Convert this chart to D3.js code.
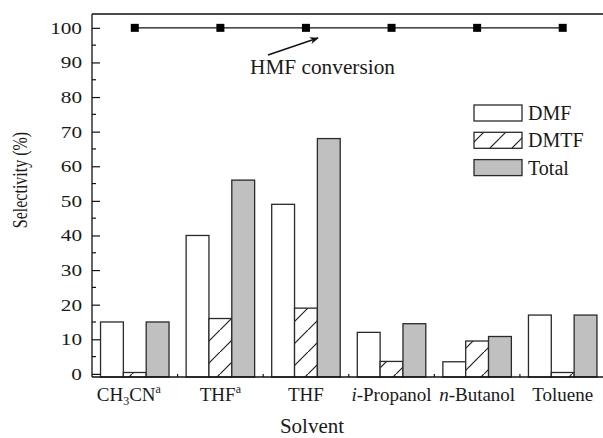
<!DOCTYPE html>
<html><head><meta charset="utf-8">
<script src="https://cdn.jsdelivr.net/npm/d3@7"></script>
<style>body{margin:0;background:#fff}svg{display:block}text{font-family:"Liberation Serif","Times New Roman",serif;fill:#1a1a1a}</style>
</head><body><svg id="c" width="603" height="438"></svg>
<script>
const categories = ["CH3CN^a", "THF^a", "THF", "i-Propanol", "n-Butanol", "Toluene"];
const seriesNames = ["DMF", "DMTF", "Total"];
const dmf = [15, 40, 49, 12, 3.5, 17];
const dmtf = [0.4, 16, 19, 3.6, 9.5, 0.4];
const total = [15, 56, 68, 14.5, 10.8, 17];
const conversion = [100, 100, 100, 100, 100, 100];
const yTicks = [0, 10, 20, 30, 40, 50, 60, 70, 80, 90, 100];

const svg = d3.select("#c");
const L = 92, R = 605.5, T = 14, B = 377;
const x = d3.scaleBand().domain(categories).range([L, R]).paddingInner(0).paddingOuter(0);
const y = d3.scaleLinear().domain([-0.9, 104]).range([B, T]);
const inner = d3.scaleBand().domain(seriesNames).range([0, 68.5]);
const off = (x.bandwidth() - 68.5) / 2;

const defs = svg.append("defs");
const pat = defs.append("pattern").attr("id", "hatch").attr("patternUnits", "userSpaceOnUse")
  .attr("width", 22).attr("height", 22);
pat.append("rect").attr("width", 22).attr("height", 22).attr("fill", "#fff");
pat.append("path").attr("d", "M-2,24 L24,-2").attr("stroke", "#222").attr("stroke-width", 1.2);

const fills = {DMF: "#fff", DMTF: "url(#hatch)", Total: "#c0c0c0"};
const data = {DMF: dmf, DMTF: dmtf, Total: total};

// bars
seriesNames.forEach(s => {
  svg.append("g").selectAll("rect").data(categories).join("rect")
    .attr("x", c => x(c) + off + inner(s))
    .attr("y", (c, i) => y(data[s][i]))
    .attr("width", inner.bandwidth())
    .attr("height", (c, i) => B - y(data[s][i]))
    .attr("fill", fills[s]).attr("stroke", "#2a2a2a").attr("stroke-width", 1.3);
});

// axes frame
svg.append("line").attr("x1", L).attr("x2", 603).attr("y1", T).attr("y2", T).attr("stroke", "#111").attr("stroke-width", 1.3);
svg.append("line").attr("x1", L).attr("x2", 603).attr("y1", B).attr("y2", B).attr("stroke", "#111").attr("stroke-width", 1.3);
svg.append("line").attr("x1", L).attr("x2", L).attr("y1", T).attr("y2", B).attr("stroke", "#111").attr("stroke-width", 1.3);

// y axis ticks (inward)
const yAxis = d3.axisRight(y).tickValues(yTicks).tickSize(8).tickFormat("");
const gy = svg.append("g").attr("transform", `translate(${L},0)`).call(yAxis);
gy.select(".domain").remove();
gy.selectAll("line").attr("stroke", "#111").attr("stroke-width", 1.2);
const minor = d3.range(5, 100, 10);
svg.append("g").selectAll("line").data(minor).join("line")
  .attr("x1", L).attr("x2", L + 4).attr("y1", d => y(d)).attr("y2", d => y(d))
  .attr("stroke", "#111").attr("stroke-width", 1.2);
svg.append("g").selectAll("text").data(yTicks).join("text")
  .attr("transform", d => `translate(82,${y(d) + 6}) scale(1.25,1)`).attr("text-anchor", "end")
  .attr("font-size", 17).text(d => d);

// x ticks at band boundaries
const bounds = categories.slice(1).map(c => x(c));
svg.append("g").selectAll("line").data(bounds).join("line")
  .attr("x1", d => d).attr("x2", d => d).attr("y1", B).attr("y2", B - 3)
  .attr("stroke", "#111").attr("stroke-width", 1.2);

// x labels
const xl = svg.append("g").selectAll("text").data(categories).join("text")
  .attr("x", c => x(c) + x.bandwidth() / 2 + (c === "CH3CN^a" ? -6 : 0)).attr("y", 401)
  .attr("text-anchor", "middle").attr("font-size", 19);
xl.each(function(c) {
  const t = d3.select(this);
  if (c === "CH3CN^a") {
    t.append("tspan").text("CH");
    t.append("tspan").attr("font-size", 12).attr("dy", 4).text("3");
    t.append("tspan").attr("dy", -4).text("CN");
    t.append("tspan").attr("font-size", 12).attr("dy", -8).text("a");
  } else if (c === "THF^a") {
    t.append("tspan").text("THF");
    t.append("tspan").attr("font-size", 12).attr("dy", -8).text("a");
  } else if (c === "i-Propanol" || c === "n-Butanol") {
    t.append("tspan").attr("font-style", "italic").text(c[0]);
    t.append("tspan").text(c.slice(1));
  } else t.text(c);
});

// axis titles
svg.append("text").attr("x", 312).attr("y", 433).attr("text-anchor", "middle").attr("font-size", 21).text("Solvent");
svg.append("text").attr("transform", "translate(27,180) rotate(-90) scale(1,1.3)").attr("text-anchor", "middle").attr("font-size", 16).text("Selectivity (%)");

// conversion line
const cx = c => x(c) + x.bandwidth() / 2;
svg.append("path").datum(conversion)
  .attr("d", d3.line().x((d, i) => cx(categories[i])).y(d => y(d)))
  .attr("fill", "none").attr("stroke", "#111").attr("stroke-width", 1.3);
svg.append("g").selectAll("rect").data(conversion).join("rect")
  .attr("x", (d, i) => cx(categories[i]) - 4).attr("y", d => y(d) - 4)
  .attr("width", 8).attr("height", 8).attr("fill", "#000");

// annotation
defs.append("marker").attr("id", "arr").attr("viewBox", "0 0 10 10").attr("refX", 9).attr("refY", 5)
  .attr("markerWidth", 10).attr("markerHeight", 9).attr("orient", "auto").attr("markerUnits", "userSpaceOnUse")
  .append("path").attr("d", "M0,1 L10,5 L0,9 L3,5 Z").attr("fill", "#111");
svg.append("line").attr("x1", 268).attr("y1", 55).attr("x2", 318).attr("y2", 38)
  .attr("stroke", "#111").attr("stroke-width", 1.4).attr("marker-end", "url(#arr)");
svg.append("text").attr("x", 250).attr("y", 74).attr("font-size", 21.3).text("HMF conversion");

// legend
const lg = svg.append("g");
seriesNames.forEach((s, i) => {
  const yy = 105 + i * 27.3;
  lg.append("rect").attr("x", 474).attr("y", yy).attr("width", 48).attr("height", 16)
    .attr("fill", fills[s]).attr("stroke", "#2a2a2a").attr("stroke-width", 1.3);
  lg.append("text").attr("x", 528).attr("y", yy + 15).attr("font-size", 20).text(s);
});
</script></body></html>
